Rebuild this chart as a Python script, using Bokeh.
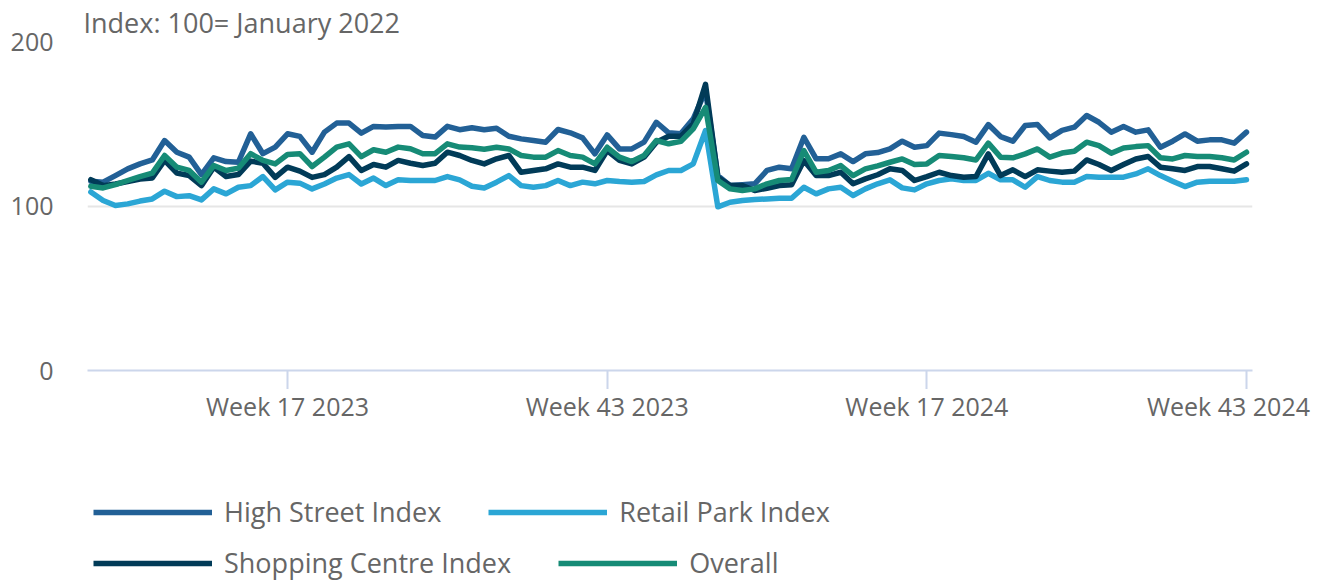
from bokeh.plotting import figure
from bokeh.models import Range1d, FixedTicker, Legend, LegendItem, Label
from bokeh.layouts import column
from bokeh.embed import file_html
from bokeh.resources import INLINE

# ---- categories: weeks, Week 1 2023 .. Week 43 2024 ----
week_numbers_2023 = list(range(1, 53))
week_numbers_2024 = list(range(1, 44))
weeks = [f"Week {w} 2023" for w in week_numbers_2023] + [f"Week {w} 2024" for w in week_numbers_2024]

tick_labels = ["Week 17 2023", "Week 43 2023", "Week 17 2024", "Week 43 2024"]
y_ticks = [0, 100, 200]
title_text = "Index: 100= January 2022"

# ---- series ----
high_street = [
    115, 114.5, 118.5, 122.6, 125.6, 128, 139.8, 132.7, 129.7, 119.1,
    129.3, 127, 126.6, 143.9, 131.8, 135.8, 143.9, 142.3, 132.7, 144.9,
    150.4, 150.4, 144.3, 148.4, 148, 148.4, 148.4, 142.9, 141.9, 148.4,
    146.4, 147.6, 146.4, 147.3, 142.4, 140.8, 139.8, 138.8, 146.5, 144.5,
    141.4, 131.7, 143.2, 134.7, 134.7, 138.8, 150.9, 144.5, 144, 153,
    170, 118.5, 112.4, 112.9, 113.5, 121.6, 123.6, 122.6, 141.8, 128.7,
    128.7, 131.7, 127, 131.7, 132.5, 134.7, 139.4, 135.7, 136.7, 144.3,
    143.4, 142.2, 138.8, 149.5, 142.2, 139.4, 148.9, 149.5, 141.4, 146,
    147.9, 155, 150.9, 144.9, 148.3, 144.9, 146.3, 135.7, 139.4, 143.8,
    139.4, 140.2, 140.2, 138.2, 144.9,
]
retail_park = [
    108.5, 103.3, 100.3, 101.3, 103, 104.3, 109, 105.7, 106.3, 103.7,
    110.4, 107.4, 111.4, 112.4, 117.9, 109.8, 114.5, 113.9, 110.4, 113.4,
    117, 119.1, 113.4, 117, 112.4, 115.9, 115.5, 115.5, 115.5, 117.9,
    115.9, 112, 111, 114.5, 118.5, 112.4, 111.4, 112.4, 115.5, 112.4,
    114.5, 113.5, 115.5, 114.9, 114.5, 114.9, 118.9, 121.6, 121.6, 125.6,
    145.9, 99.5, 102.3, 103.3, 103.9, 104.3, 104.7, 104.7, 111.4, 107.4,
    110.4, 111.4, 106.4, 110.4, 113.5, 115.9, 111, 109.8, 113.5, 115.5,
    116.5, 115.5, 115.5, 119.9, 115.9, 115.9, 111.4, 117.9, 115.5, 114.5,
    114.5, 117.9, 117.5, 117.5, 117.5, 119.5, 122.6, 118.5, 115.1, 111.8,
    114.5, 115.1, 115.1, 115.1, 115.9,
]
shopping_centre = [
    116, 112.4, 113.4, 114.8, 116.4, 117, 127.7, 120, 118.5, 112.4,
    123.6, 117.9, 119.1, 127.3, 126, 117.4, 123.6, 121.2, 117.4, 119.1,
    123.6, 130, 121.6, 125.2, 123.6, 127.7, 126, 124.6, 126, 132.7,
    130.7, 127.7, 125.6, 128.7, 130.7, 120.5, 121.6, 122.6, 125.6, 123.6,
    123.6, 121.6, 133.7, 127.7, 125.6, 129.7, 138.8, 142.4, 142.4, 150,
    174, 117.5, 112.4, 112.4, 109.4, 110.8, 112.4, 112.9, 127.6, 118.5,
    118.5, 120.5, 113.5, 116.5, 119, 122.6, 121.6, 115.5, 117.9, 120.5,
    118.5, 117.5, 117.9, 131.7, 118.5, 122, 117.9, 122, 121.2, 120.5,
    121.2, 128, 125.2, 121.6, 125.2, 128.6, 130.1, 123.6, 122.6, 121.6,
    124, 124, 122.6, 121.2, 125.6,
]
overall = [
    112, 111, 113, 115.5, 117.9, 120, 130.7, 123.6, 121.6, 114.5,
    124.6, 121.6, 123, 131.8, 127.7, 125.6, 131.3, 131.8, 124, 129.7,
    135.8, 137.8, 130, 134.2, 132.7, 135.8, 134.8, 131.8, 131.8, 137.8,
    135.8, 135.4, 134.5, 135.7, 134.7, 130.7, 129.7, 129.7, 133.7, 130.7,
    129.7, 125.6, 135.7, 129.7, 127, 130.7, 139.8, 137.8, 139.3, 146.9,
    160, 115.5, 110.4, 109.4, 110.4, 113.5, 115.5, 116.1, 133.7, 120.5,
    121.6, 124.6, 118.5, 122.6, 124.4, 126.6, 128.6, 125.2, 125.6, 130.7,
    130.1, 129.3, 128, 138.2, 129.7, 129.3, 131.7, 134.7, 129.7, 132.2,
    133.3, 138.8, 136.7, 132.1, 135.3, 136.1, 136.7, 129.3, 128.6, 130.7,
    130.1, 130.1, 129.3, 128, 132.7,
]

series_names = ["High Street Index", "Retail Park Index", "Shopping Centre Index", "Overall"]
series_colors = ["#226096", "#2ba6d5", "#013b58", "#168b76"]
series_values = [high_street, retail_park, shopping_centre, overall]

FONT = "Open Sans"
TEXT = "#666666"
AXIS = "#ccd6eb"

W = 1320
FRAME_L, FRAME_R = 87, 68          # borders left / right of the plot area
TOP, H1, H2 = 41, 389, 192          # main figure and lower (labels + legend) strip
X0, X1 = -0.27, 94.49

x = list(range(len(weeks)))
tick_idx = [weeks.index(t) for t in tick_labels]

# ---------------- main chart ----------------
p = figure(
    width=W, height=H1, output_backend="svg", toolbar_location=None,
    x_range=Range1d(X0, X1), y_range=Range1d(0, 200),
    min_border_left=FRAME_L, min_border_right=FRAME_R, min_border_top=TOP, min_border_bottom=19,
)
p.frame_align = False
p.outline_line_color = None
p.background_fill_color = "white"
p.border_fill_color = "white"

p.title.text = title_text
p.title.text_font = FONT
p.title.text_font_size = "27px"
p.title.text_font_style = "normal"
p.title.text_color = TEXT
p.title.align = "left"
p.title.offset = -4
p.title.standoff = 2

xa = p.xaxis[0]
xa.ticker = FixedTicker(ticks=tick_idx)
xa.major_label_overrides = {i: "" for i in tick_idx}
xa.major_label_text_font_size = "1px"
xa.major_label_standoff = 0
xa.axis_line_color = AXIS
xa.axis_line_width = 2
xa.major_tick_line_color = AXIS
xa.major_tick_line_width = 2
xa.major_tick_out = 19
xa.major_tick_in = 0
xa.minor_tick_out = 0
xa.minor_tick_in = 0

ya = p.yaxis[0]
ya.ticker = FixedTicker(ticks=y_ticks)
ya.axis_line_color = None
ya.major_tick_out = 0
ya.major_tick_in = 0
ya.minor_tick_out = 0
ya.minor_tick_in = 0
ya.major_label_standoff = 34
ya.major_label_text_font = FONT
ya.major_label_text_font_size = "25px"
ya.major_label_text_color = TEXT

p.xgrid.visible = False
p.ygrid.grid_line_color = "#e6e6e6"
p.ygrid.grid_line_width = 2

for vals, col in zip(series_values, series_colors):
    p.line(x, vals, line_width=5.5, line_color=col, line_join="round", line_cap="round")

# ---------------- lower strip: x tick labels + legend ----------------
scale = (W - FRAME_L - FRAME_R) / (X1 - X0)
q = figure(
    width=W, height=H2, output_backend="svg", toolbar_location=None,
    x_range=Range1d(X0 - FRAME_L / scale, X1 + FRAME_R / scale), y_range=Range1d(-H2, 0),
    x_axis_type=None, y_axis_type=None,
    min_border_left=0, min_border_right=0, min_border_top=0, min_border_bottom=0,
)
q.frame_align = False
q.outline_line_color = None
q.xgrid.visible = False
q.ygrid.visible = False
q.background_fill_color = "white"
q.border_fill_color = "white"

for k, (ti, tl) in enumerate(zip(tick_idx, tick_labels)):
    last = k == len(tick_idx) - 1
    q.add_layout(Label(x=ti, y=H2 - 16, y_units="screen", x_offset=-18 if last else 0,
                       text=tl, text_align="center", text_baseline="middle",
                       text_font=FONT, text_font_size="25px", text_color=TEXT))

# legend swatches: same series, lying outside this strip's visible range
legend_renderers = [q.line(x, vals, line_width=5.5, line_color=c, line_cap="butt")
                    for vals, c in zip(series_values, series_colors)]


def make_legend(idx, loc, spacing):
    return Legend(
        items=[LegendItem(label=series_names[i], renderers=[legend_renderers[i]]) for i in idx],
        orientation="horizontal", location=loc, spacing=spacing,
        padding=0, margin=0, glyph_width=119, glyph_height=26, label_height=26,
        label_standoff=12, label_text_font=FONT, label_text_font_size="27px",
        label_text_color=TEXT, border_line_color=None, background_fill_alpha=0,
    )


q.add_layout(make_legend([0, 1], (93, 51), 47))
q.add_layout(make_legend([2, 3], (93, 0), 47))

layout = column(p, q, spacing=0)
open("out.html", "w").write(file_html(layout, INLINE))
